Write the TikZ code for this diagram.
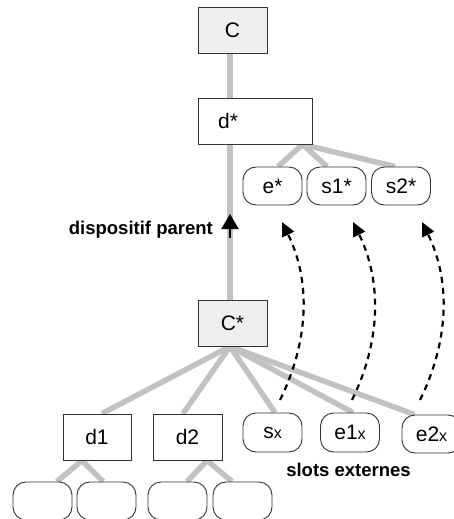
\documentclass[tikz,border=0pt]{standalone}
\usepackage{fontspec}
\setmainfont{Liberation Sans}
\usetikzlibrary{arrows.meta,calc}
\pgfdeclarelayer{bg}
\pgfsetlayers{bg,main}
\definecolor{linkgray}{HTML}{C2C2C2}
\definecolor{boxgray}{HTML}{EFEFEF}
\definecolor{edgegray}{HTML}{333333}
\newcommand{\sm}[1]{{\fontsize{16}{18}\selectfont #1}}
\begin{document}
\begin{tikzpicture}[x=1pt,y=-1pt,
  box/.style={draw=edgegray, line width=0.9pt, minimum width=69pt, minimum height=46pt, inner sep=0pt, font=\fontsize{21}{24}\selectfont},
  graybox/.style={box, fill=boxgray},
  whitebox/.style={box, fill=white},
  pill/.style={draw=edgegray, line width=0.9pt, fill=white, rounded corners=13pt, minimum width=59pt, minimum height=38pt, inner sep=0pt, font=\fontsize{21}{24}\selectfont},
  link/.style={draw=linkgray, line width=5.5pt},
  ext/.style={draw=black, dash pattern=on 6pt off 5pt, line width=2.2pt, -{Triangle[length=14pt,width=13pt]}},
  lbl/.style={font=\bfseries\fontsize{18.5}{20}\selectfont, inner sep=0pt}
]
\useasboundingbox (0,0) rectangle (454,519);

% boxes
\node[graybox] (C) at (232.5,30.5) {C};
\node[whitebox, minimum width=114pt] (d) at (255,121) {};
\node[font=\fontsize{21}{24}\selectfont] (dtext) at (228,121) {d*};
\node[pill] (e) at (272.5,186) {e*};
\node[pill] (s1) at (336.5,186) {s1*};
\node[pill] (s2) at (401,186) {s2*};
\node[graybox] (Cs) at (232.5,323) {C*};
\node[whitebox, minimum width=68pt] (d1) at (97,437) {d1};
\node[whitebox] (d2) at (187.5,437) {d2};
\node[pill, minimum height=39pt] (sx) at (272.5,432.5) {s\sm{x}};
\node[pill, minimum height=39pt] (e1x) at (350,432.5) {e1\sm{x}};
\node[pill] (e2x) at (431.5,434) {e2\sm{x}};
\node[pill] (p1) at (42.5,501) {};
\node[pill] (p2) at (106.5,501) {};
\node[pill] (p3) at (177.5,501) {};
\node[pill] (p4) at (242.5,501) {};

% labels
\node[lbl, anchor=east] (dp) at (213,230) {dispositif parent};
\node[lbl] (se) at (348.5,470) {slots externes};

% gray links
\begin{pgfonlayer}{bg}
\draw[link] ([xshift=-2.5pt]C.south) -- ([xshift=-2.5pt]C.south |- d.north);
\draw[link] ([xshift=-2.5pt]Cs.north |- d.south) -- ([xshift=-2.5pt]Cs.north);
\coordinate (dsplit) at ([xshift=-10pt]d.south east);
\draw[link] (dsplit) -- ([xshift=5.5pt]e.north);
\draw[link] (dsplit) -- ([xshift=-9.5pt]s1.north);
\draw[link] (dsplit) -- ([xshift=-6pt]s2.north);
\coordinate (csplit) at ([xshift=-2.5pt]Cs.south);
\draw[link] (csplit) -- ([xshift=5pt]d1.north);
\draw[link] (csplit) -- ([xshift=-4.5pt]d2.north);
\draw[link] (csplit) -- ([xshift=2.5pt]sx.north);
\draw[link] (csplit) -- ([xshift=3pt]e1x.north);
\draw[link] (csplit) -- ([xshift=-17pt]e2x.north);
\coordinate (d1split) at ([xshift=-15pt]d1.south);
\draw[link] (d1split) -- ([xshift=14.5pt]p1.north);
\draw[link] (d1split) -- ([xshift=-3.5pt]p2.north);
\coordinate (d2split) at ([xshift=19.5pt]d2.south);
\draw[link] (d2split) -- ([xshift=9.5pt]p3.north);
\draw[link] (d2split) -- ([xshift=-10.5pt]p4.north);
\end{pgfonlayer}

% parent arrow
\coordinate (pa0) at (230,238);
\coordinate (pa1) at (230,214);
\draw[line width=2.2pt, -{Triangle[length=15pt,width=17pt]}] (pa0) -- (pa1);

% external slot arrows
\coordinate (a0) at (280,400);
\coordinate (a1) at (282,222);
\coordinate (b0) at (352,400);
\coordinate (b1) at (353,222);
\coordinate (c0) at (420,400);
\coordinate (c1) at (422,222);
\draw[ext] (a0) .. controls +(29,-59) and +(29,59) .. (a1);
\draw[ext] (b0) .. controls +(29,-59) and +(29,59) .. (b1);
\draw[ext] (c0) .. controls +(29,-59) and +(29,59) .. (c1);
\end{tikzpicture}
\end{document}
